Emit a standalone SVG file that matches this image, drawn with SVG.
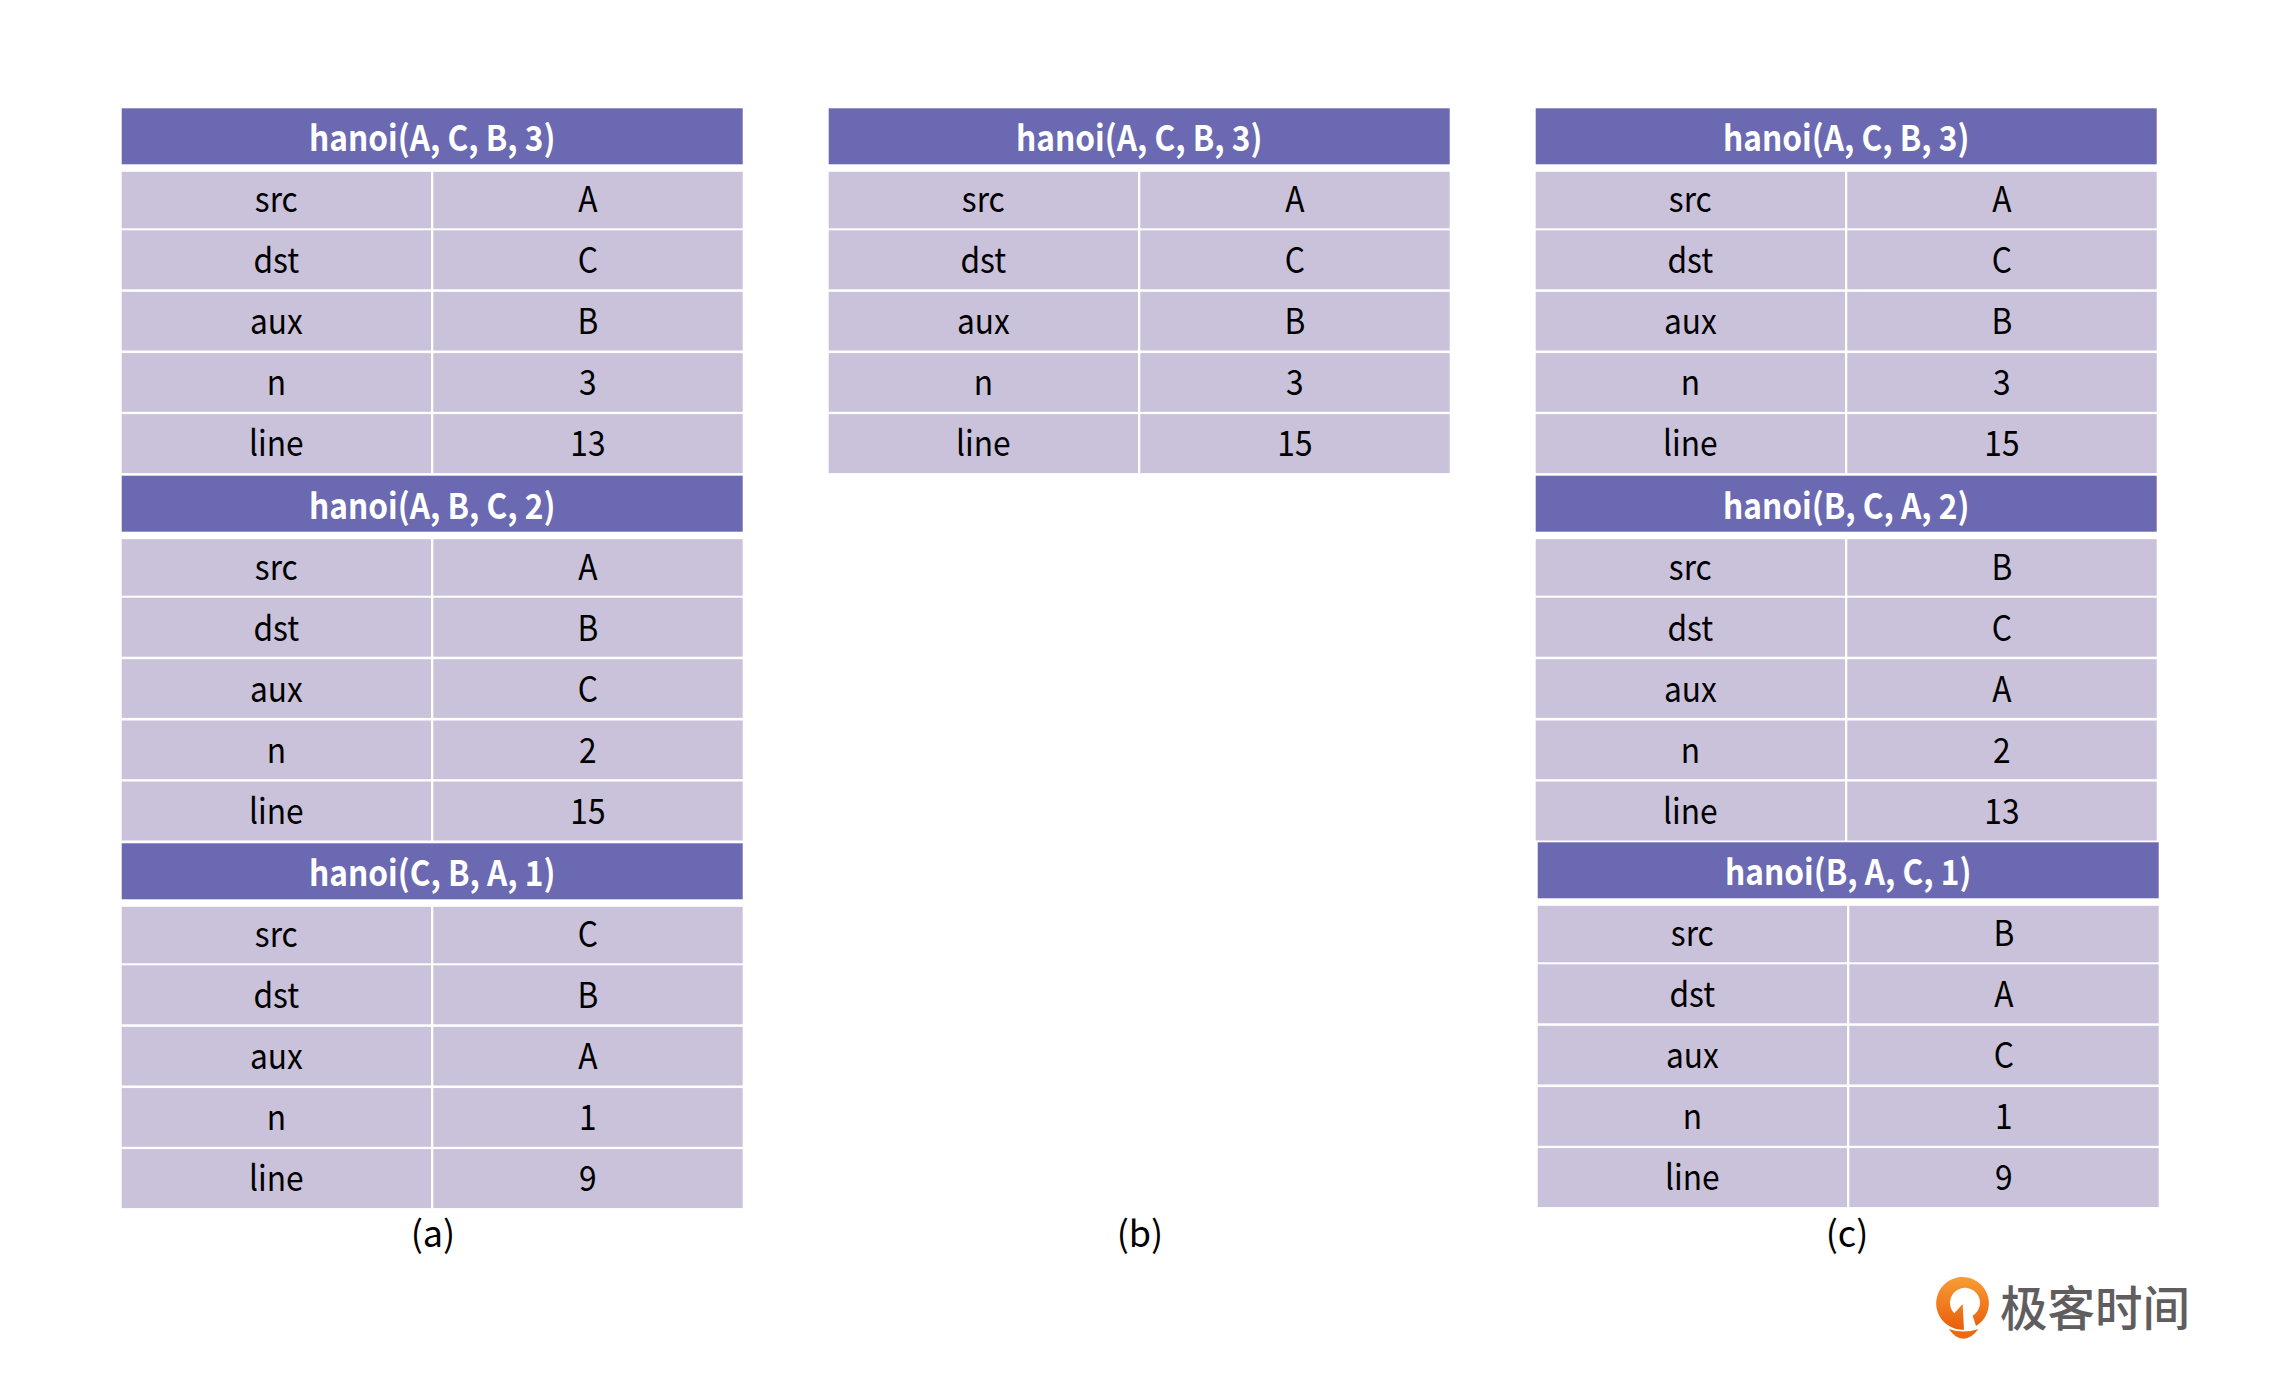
<svg xmlns="http://www.w3.org/2000/svg" width="2284" height="1378" viewBox="0 0 2284 1378">
<style>
text{font-family:"Noto Sans CJK SC","Liberation Sans",sans-serif;font-size:35px;text-anchor:middle;fill:#000;transform-box:fill-box;transform-origin:center;transform:scaleX(.905)}
.h{fill:#6a69b2}.r{fill:#cac1da}
.t{fill:#fff;font-weight:700}
.c{font-size:36px;transform:none}
.k{font-size:47.5px;font-weight:500;fill:#5f5d5e;transform:none}
</style>
<defs>
<g id="tbl">
<rect class="h" width="621" height="56"/>
<rect class="r" y="63.5" width="309.3" height="56.5"/><rect class="r" x="311.6" y="63.5" width="309.4" height="56.5"/>
<rect class="r" y="122" width="309.3" height="59"/><rect class="r" x="311.6" y="122" width="309.4" height="59"/>
<rect class="r" y="183.5" width="309.3" height="58.7"/><rect class="r" x="311.6" y="183.5" width="309.4" height="58.7"/>
<rect class="r" y="244.8" width="309.3" height="58.7"/><rect class="r" x="311.6" y="244.8" width="309.4" height="58.7"/>
<rect class="r" y="305.8" width="309.3" height="59"/><rect class="r" x="311.6" y="305.8" width="309.4" height="59"/>
</g>
<g id="keys">
<text x="154.6" y="104">src</text><text x="154.6" y="165">dst</text><text x="154.6" y="226">aux</text><text x="154.6" y="287">n</text><text x="154.6" y="348">line</text>
</g>
<linearGradient id="lg" x1="0" y1="0" x2="0" y2="1"><stop offset="0" stop-color="#f89d35"/><stop offset="1" stop-color="#ea5d0c"/></linearGradient>
</defs>
<rect width="2284" height="1378" fill="#fff"/>

<g id="a1" transform="translate(121.7,108.3)"><use href="#tbl"/><use href="#keys"/>
<text class="t" x="310.5" y="43">hanoi(A, C, B, 3)</text>
<text x="466.2" y="104">A</text><text x="466.2" y="165">C</text><text x="466.2" y="226">B</text><text x="466.2" y="287">3</text><text x="466.2" y="348">13</text></g>
<g id="a2" transform="translate(121.7,475.7)"><use href="#tbl"/><use href="#keys"/>
<text class="t" x="310.5" y="43">hanoi(A, B, C, 2)</text>
<text x="466.2" y="104">A</text><text x="466.2" y="165">B</text><text x="466.2" y="226">C</text><text x="466.2" y="287">2</text><text x="466.2" y="348">15</text></g>
<g id="a3" transform="translate(121.7,843.3)"><use href="#tbl"/><use href="#keys"/>
<text class="t" x="310.5" y="43">hanoi(C, B, A, 1)</text>
<text x="466.2" y="104">C</text><text x="466.2" y="165">B</text><text x="466.2" y="226">A</text><text x="466.2" y="287">1</text><text x="466.2" y="348">9</text></g>

<g id="b1" transform="translate(828.7,108.3)"><use href="#tbl"/><use href="#keys"/>
<text class="t" x="310.5" y="43">hanoi(A, C, B, 3)</text>
<text x="466.2" y="104">A</text><text x="466.2" y="165">C</text><text x="466.2" y="226">B</text><text x="466.2" y="287">3</text><text x="466.2" y="348">15</text></g>

<g id="c1" transform="translate(1535.7,108.3)"><use href="#tbl"/><use href="#keys"/>
<text class="t" x="310.5" y="43">hanoi(A, C, B, 3)</text>
<text x="466.2" y="104">A</text><text x="466.2" y="165">C</text><text x="466.2" y="226">B</text><text x="466.2" y="287">3</text><text x="466.2" y="348">15</text></g>
<g id="c2" transform="translate(1535.7,475.7)"><use href="#tbl"/><use href="#keys"/>
<text class="t" x="310.5" y="43">hanoi(B, C, A, 2)</text>
<text x="466.2" y="104">B</text><text x="466.2" y="165">C</text><text x="466.2" y="226">A</text><text x="466.2" y="287">2</text><text x="466.2" y="348">13</text></g>
<g id="c3" transform="translate(1537.7,842.3)"><use href="#tbl"/><use href="#keys"/>
<text class="t" x="310.5" y="43">hanoi(B, A, C, 1)</text>
<text x="466.2" y="104">B</text><text x="466.2" y="165">A</text><text x="466.2" y="226">C</text><text x="466.2" y="287">1</text><text x="466.2" y="348">9</text></g>

<g id="captions">
<text class="c" x="433" y="1247">(a)</text>
<text class="c" x="1140" y="1247">(b)</text>
<text class="c" x="1847" y="1247">(c)</text>
</g>

<g id="logo">
<g transform="translate(1900,1180) scale(0.3333)">
<path fill="url(#lg)" d="M192 449A79 79 0 1 1 228 438L218 407A45 45 0 1 0 163 400L188 372L192 449Z"/>
<path fill="#ee6a10" d="M147 447Q190 462 235 447Q215 476 190 476Q165 476 147 447Z"/>
</g>
<text class="k" x="2095" y="1326">极客时间</text>
</g>
</svg>
